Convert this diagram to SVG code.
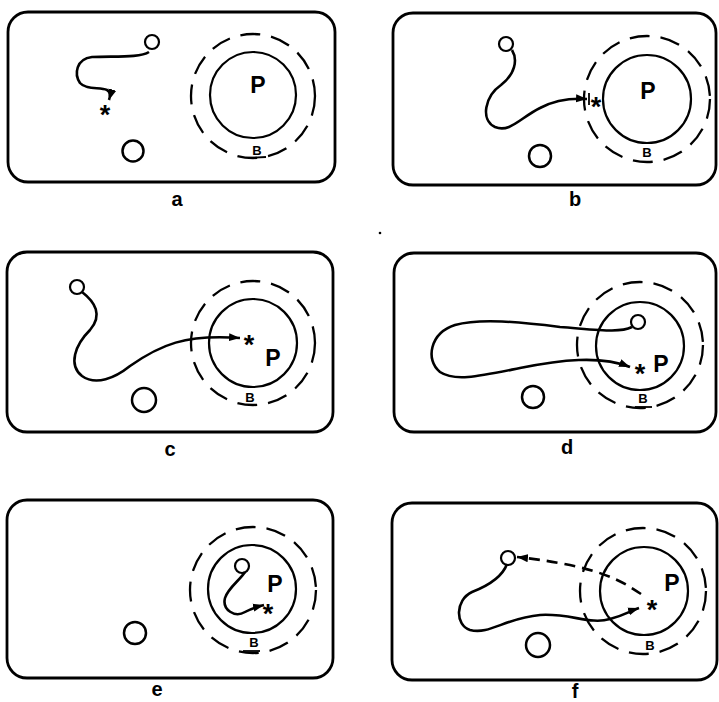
<svg xmlns="http://www.w3.org/2000/svg" width="719" height="702" viewBox="0 0 719 702">
<style>
.frame{fill:none;stroke:#000;stroke-width:2.8}
.cell{fill:none;stroke:#000;stroke-width:2.2}
.zone{fill:none;stroke:#000;stroke-width:2.3;stroke-dasharray:20 11}
.dot{fill:#fff;stroke:#000;stroke-width:2.2}
.blob{fill:none;stroke:#000;stroke-width:2.5}
.path{fill:none;stroke:#000;stroke-width:2.6;marker-end:url(#ah)}
.dpath{fill:none;stroke:#000;stroke-width:2.6;stroke-dasharray:11 7;marker-end:url(#ah)}
.P{font-family:"Liberation Sans",Arial,sans-serif;font-weight:bold;font-size:23px;text-anchor:middle}
.B{font-family:"Liberation Sans",Arial,sans-serif;font-weight:bold;font-size:13px;text-anchor:middle}
.star{font-family:"Liberation Sans",Arial,sans-serif;font-weight:bold;font-size:27px;text-anchor:middle}
.lab{font-family:"Liberation Sans",Arial,sans-serif;font-weight:bold;font-size:20px;text-anchor:middle}
.ul{stroke:#000;stroke-width:1.8}
</style>
<defs>
<marker id="ah" markerUnits="userSpaceOnUse" markerWidth="12" markerHeight="10" refX="11" refY="5" orient="auto">
<path d="M0,1 L11,5 L0,9 Z" fill="#000"/>
</marker>
</defs>

<g id="panel-a">
<rect class="frame" x="8" y="12" width="327" height="170" rx="20"/>
<circle class="cell" cx="253" cy="95" r="43"/>
<circle class="zone" cx="253" cy="96" r="62"/>
<circle class="dot" cx="152" cy="42" r="7"/>
<circle class="blob" cx="133" cy="151" r="10.5"/>
<text class="P" x="258" y="93">P</text>
<text class="B" x="257" y="155">B</text>
<line class="ul" x1="248" y1="158" x2="266" y2="157"/>
<text class="star" x="105" y="124">*</text>
<text class="lab" x="177" y="206">a</text>
</g>

<g id="panel-b">
<rect class="frame" x="393" y="13" width="323" height="172" rx="20"/>
<circle class="cell" cx="647" cy="99" r="44"/>
<circle class="zone" cx="647" cy="99" r="63"/>
<circle class="dot" cx="506" cy="44" r="7"/>
<circle class="blob" cx="540" cy="156" r="11"/>
<text class="P" x="648" y="99">P</text>
<text class="B" x="647" y="157">B</text>
<line class="ul" x1="589" y1="93" x2="589" y2="105"/>
<text class="star" x="596" y="116">*</text>
<text class="lab" x="575" y="206">b</text>
</g>

<g id="panel-c">
<rect class="frame" x="7" y="252" width="326" height="180" rx="20"/>
<circle class="cell" cx="253" cy="343" r="44"/>
<circle class="zone" cx="253" cy="343" r="62"/>
<circle class="dot" cx="77" cy="287" r="7"/>
<circle class="blob" cx="144" cy="400" r="12"/>
<text class="P" x="273" y="366">P</text>
<text class="B" x="250" y="402">B</text>
<text class="star" x="249" y="354">*</text>
<text class="lab" x="170" y="456">c</text>
</g>

<g id="panel-d">
<rect class="frame" x="394" y="253" width="322" height="179" rx="20"/>
<circle class="cell" cx="640" cy="346" r="44"/>
<circle class="zone" cx="640" cy="345" r="63"/>
<circle class="dot" cx="638" cy="322" r="7"/>
<circle class="blob" cx="533" cy="397" r="11"/>
<circle cx="380" cy="233" r="1.3" fill="#000"/>
<text class="P" x="661" y="372">P</text>
<text class="B" x="643" y="403">B</text>
<line class="ul" x1="635" y1="407" x2="652" y2="407"/>
<text class="star" x="640" y="383">*</text>
<text class="lab" x="567" y="454">d</text>
</g>

<g id="panel-e">
<rect class="frame" x="7" y="500" width="326" height="178" rx="20"/>
<circle class="cell" cx="252" cy="589" r="44"/>
<circle class="zone" cx="253" cy="590" r="63"/>
<circle class="dot" cx="242" cy="566" r="7"/>
<circle class="blob" cx="135" cy="633" r="11"/>
<text class="P" x="275" y="592">P</text>
<text class="B" x="254" y="647">B</text>
<line class="ul" x1="243" y1="651" x2="260" y2="651"/>
<text class="star" x="268" y="623">*</text>
<text class="lab" x="157" y="696">e</text>
</g>

<g id="panel-f">
<rect class="frame" x="392" y="503" width="325" height="177" rx="20"/>
<circle class="cell" cx="644" cy="591" r="44"/>
<circle class="zone" cx="643" cy="591" r="63"/>
<circle class="dot" cx="508" cy="558" r="7"/>
<circle class="blob" cx="538" cy="645" r="12"/>
<text class="P" x="672" y="591">P</text>
<text class="B" x="650" y="650">B</text>
<text class="star" x="652" y="619">*</text>
<text class="lab" x="575" y="698">f</text>
</g>

<g id="connectors">
<path class="path" d="M149,52 C140,58 115,56 92,57 C76,59 74,74 80,83 C86,90 100,87 107,90 C111,92 110,97 109,100"/>
<path class="path" d="M512,50 C518,60 515,74 501,85 C485,96 480,120 495,127 C510,133 520,118 540,108 C555,100 570,98 587,99"/>
<path class="path" d="M82,292 C95,302 103,315 90,330 C75,345 68,365 82,376 C96,386 115,378 130,366 C160,345 185,334 240,338"/>
<path class="path" d="M632,327 C620,333 600,330 560,327 C520,322 480,318 455,325 C430,333 425,360 440,372 C455,382 480,376 520,368 C560,360 600,355 630,367"/>
<path class="path" d="M245,572 C240,580 228,588 225,598 C222,610 235,618 245,612 C252,608 256,607 264,605"/>
<path class="path" d="M507,564 C503,575 490,585 472,592 C455,600 455,625 470,630 C490,635 505,618 540,615 C570,613 590,625 610,619 C625,615 630,611 639,608"/>
<path class="dpath" d="M641,594 C620,580 598,566 517,557"/>
</g>
</svg>
